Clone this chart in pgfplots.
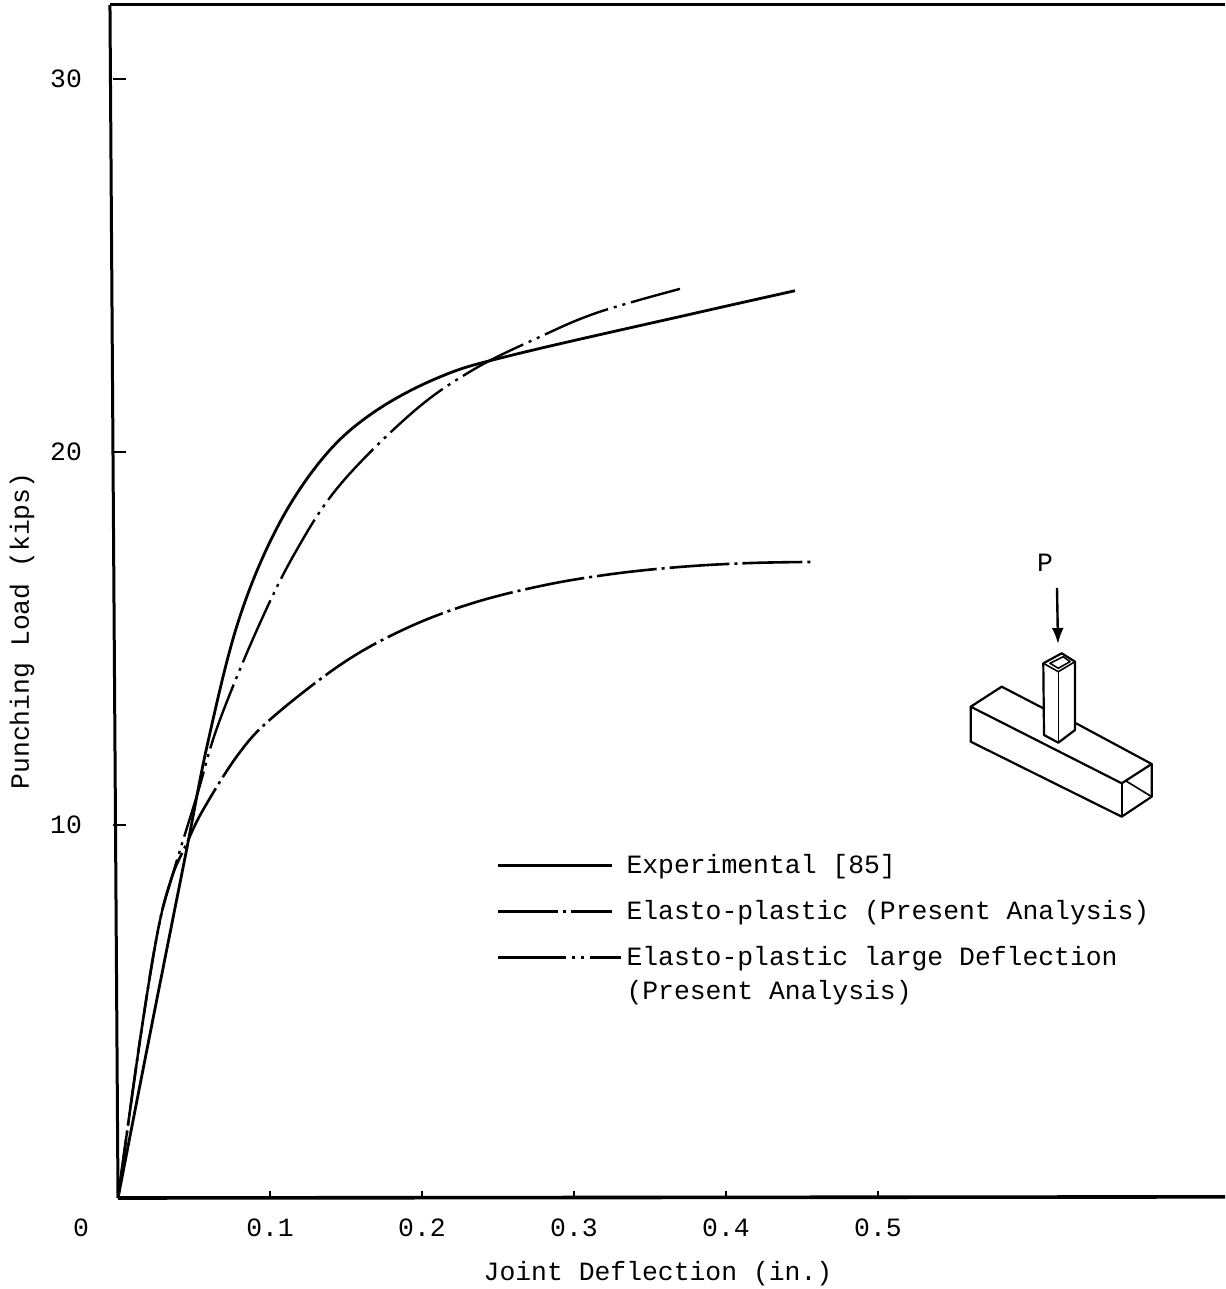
\documentclass[border=0pt]{standalone}
\usepackage{fontspec}
\setmainfont{Liberation Mono}
\usepackage{pgfplots}
\pgfplotsset{compat=1.18}
\usetikzlibrary{arrows.meta}
\tikzset{
 expstyle/.style={black,line width=1.4pt,solid},
 epstyle/.style={black,line width=1.3pt,dash pattern=on 30pt off 2.5pt on 1.5pt off 2.5pt},
 lgstyle/.style={black,line width=1.2pt,dash pattern=on 34pt off 3pt on 1.5pt off 3pt on 1.5pt off 3pt}
}
\begin{document}
\begin{tikzpicture}
\useasboundingbox (0,0) rectangle (612.5pt,644.5pt);
\begin{axis}[
  at={(56.5pt,45.5pt)},anchor=south west,
  scale only axis,width=556pt,height=596.5pt,
  xmin=-0.0033,xmax=0.7283,ymin=0,ymax=31.98,
  clip=false,
  axis x line=bottom,axis y line=left,
  axis line style={draw=none,-},
  tick align=inside,
  xtick={0,0.1,0.2,0.3,0.4,0.5},
  xticklabels={\makebox[0pt][c]{\hspace{-37pt}0},0.1,0.2,0.3,0.4,0.5},
  ytick={10,20,30},yticklabels={10,20,30},
  minor tick num=0,
  x tick style={black,line width=0.6pt,/pgfplots/major tick length=3.5pt},
  y tick style={black,line width=1.1pt,/pgfplots/major tick length=6.5pt},
  ticklabel style={font=\fontsize{13.2}{15}\selectfont},
  xticklabel style={yshift=-7pt},
  yticklabel style={xshift=-12pt},
  xlabel={Joint Deflection (in.)},
  ylabel={Punching Load (kips)},
  label style={font=\fontsize{13.2}{15}\selectfont},
  xlabel style={at={(axis description cs:0.4901,-0.0637)},anchor=center},
  ylabel style={at={(axis description cs:-0.0818,0.4753)},anchor=center},
  legend style={at={(axis description cs:0.3395,0.2951)},anchor=north west,draw=none,fill=none,
     font=\fontsize{13.2}{17}\selectfont,row sep=8pt,
     cells={anchor=west,align=left}},
]
% frame
\addplot[black,line width=1.5pt,forget plot] coordinates {(-0.0053,31.98) (0,0)};
\addplot[black,line width=1.5pt,forget plot] coordinates {(-0.0053,31.98) (0.7283,31.98)};
\addplot[black,line width=1.8pt,forget plot] coordinates {(0,0) (0.7283,0.03)};
% Experimental
\addplot[expstyle,smooth,tension=0.6,
  legend image code/.code={\draw[expstyle] (0,0) -- (57pt,0);}] coordinates {
 (0,0) (.0199,4.16) (.0447,9.25) (.0592,12.23) (.0791,15.45) (.1044,17.95) (.1349,19.84)
 (.1678,21.05) (.2118,22.01) (.2599,22.60) (.3809,23.73) (.4454,24.32)};
\addlegendentry{Experimental [85]}
% Elasto-plastic
\addplot[epstyle,smooth,tension=0.6,
  legend image code/.code={\draw[epstyle] (0,0) -- (57pt,0);}] coordinates {
 (0,0) (.0145,4.24) (.0263,7.18) (.0355,8.61) (.0447,9.46) (.0559,10.40) (.0789,11.88)
 (.1013,12.87) (.148,14.34) (.1901,15.28) (.2336,15.95) (.2809,16.43) (.3257,16.73)
 (.371,16.92) (.4151,17.02) (.4566,17.05)};
\addlegendentry{Elasto-plastic (Present Analysis)}
% Elasto-plastic large deflection
\addplot[lgstyle,smooth,tension=0.6,
  legend image code/.code={\draw[lgstyle,yshift=8.5pt] (0,0) -- (61.5pt,0);}] coordinates {
 (0,0) (.0145,4.24) (.0263,7.18) (.0355,8.61) (.052,10.80) (.0658,12.68) (.0914,15.23)
 (.1164,17.29) (.1461,19.12) (.1941,21.07) (.2336,22.20) (.2763,23.06) (.3151,23.73)
 (.3697,24.37)};
\addlegendentry{Elasto-plastic large Deflection\\(Present Analysis)}
\end{axis}
% inset sketch, in reference pixels
\begin{scope}[x=0.5pt,y=-0.5pt,shift={(0,644.5pt)},line width=1.1pt,line join=round]
\node[font=\fontsize{13.2}{15}\selectfont] at (1045,563) {P};
\draw[line width=1.2pt,-{Latex[length=8pt,width=6pt]}] (1057,588) -- (1058,644);
% beam
\draw (1043.3,708.3) -- (1001.7,686.7) -- (970.7,706.7) -- (1121.7,783.3) -- (1151.7,764) -- (1076,723.3);
\draw (970.7,706.7) -- (970.7,741.7) -- (1121.7,816.7) -- (1151.7,796.7) -- (1151.7,764);
\draw[line width=0.8pt] (1121.7,783.3) -- (1121.7,816.7);
\draw[line width=0.8pt] (1126,781) -- (1151.7,796.7);
% post
\draw (1043.3,663.3) -- (1044,735) -- (1058.3,742.7) -- (1075,730) -- (1075,661.7) -- (1061.7,653.3) -- cycle;
\draw[line width=0.6pt] (1058.3,671.7) -- (1058.3,742.7);
\draw[line width=0.8pt] (1043.3,663.3) -- (1058.3,671.7) -- (1075,661.7);
\draw[line width=0.8pt] (1050,663.3) -- (1063.3,656.7) -- (1070,661.7) -- (1058.3,668.3) -- cycle;
\end{scope}
\end{tikzpicture}
\end{document}
